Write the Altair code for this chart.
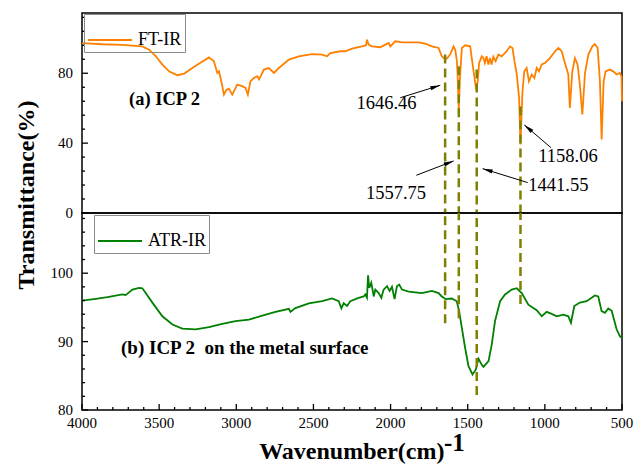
import math
import altair as alt
import pandas as pd

# ---------------------------------------------------------------- spectra ---
# FT-IR spectrum of ICP 2: wavenumber (cm-1) and transmittance (%)
ftir_wn = [4000, 3867, 3738, 3609, 3565, 3524, 3479, 3434, 3382, 3337, 3285, 3233,
           3177, 3145, 3123, 3112, 3095, 3080, 3065, 3048, 3026, 2994, 2962, 2940,
           2925, 2908, 2886, 2864, 2852, 2821, 2789, 2756, 2724, 2659, 2595, 2509,
           2444, 2412, 2390, 2326, 2293, 2250, 2185, 2159, 2153, 2142, 2121, 2067,
           2034, 2012, 2002, 1970, 1926, 1818, 1776, 1732, 1689, 1668, 1646, 1632,
           1614, 1592, 1581, 1570, 1565, 1558, 1551, 1538, 1517, 1484, 1468, 1445,
           1435, 1426, 1409, 1398, 1389, 1378, 1366, 1356, 1345, 1334, 1319, 1301,
           1280, 1247, 1226, 1210, 1197, 1182, 1167, 1158, 1145, 1133, 1118, 1103,
           1085, 1068, 1053, 1038, 1020, 999, 967, 934, 912, 891, 870, 848,
           838, 822, 805, 788, 773, 757, 740, 718, 692, 676, 658, 643,
           632, 619, 606, 579, 557, 535, 514, 503, 500]
ftir_t = [97.3, 96.6, 96.2, 95.4, 93.5, 90.0, 85.0, 81.0, 78.9, 79.8, 83.0, 86.0,
          89.1, 86.9, 80.2, 81.1, 74.5, 67.8, 70.5, 71.2, 67.8, 73.5, 72.6, 71.6,
          67.8, 75.4, 77.3, 78.3, 76.5, 82.1, 83.0, 80.2, 83.0, 87.8, 89.7, 91.0,
          90.7, 89.7, 91.6, 92.6, 92.6, 94.1, 95.4, 96.0, 99.2, 96.4, 95.4, 94.9,
          96.4, 97.3, 95.4, 98.3, 97.7, 97.7, 97.0, 95.4, 94.5, 89.7, 88.0, 88.7,
          90.7, 95.4, 93.5, 86.9, 78.0, 59.0, 76.0, 94.5, 96.0, 95.4, 85.0, 70.7,
          75.4, 85.9, 89.7, 88.7, 85.9, 89.7, 85.0, 88.7, 85.0, 89.5, 86.9, 90.7,
          89.7, 92.6, 95.4, 94.5, 86.9, 79.3, 65.9, 39.3, 69.7, 81.1, 83.0, 75.4,
          79.3, 77.3, 83.0, 81.1, 85.0, 85.9, 88.7, 92.6, 94.5, 92.6, 85.9, 79.3,
          60.2, 81.1, 88.7, 85.0, 73.5, 56.4, 80.0, 90.7, 95.4, 96.7, 94.5, 75.4,
          42.1, 75.4, 81.1, 82.1, 81.1, 79.3, 80.2, 78.0, 64.0]

# ATR-IR spectrum of ICP 2 adsorbed on the metal surface
atr_wn = [4000, 3911, 3835, 3738, 3717, 3673, 3630, 3609, 3587, 3544, 3479, 3414,
          3350, 3264, 3177, 3091, 3005, 2918, 2832, 2746, 2659, 2649, 2617, 2530,
          2444, 2379, 2336, 2319, 2304, 2282, 2261, 2207, 2174, 2164, 2153, 2146,
          2138, 2125, 2109, 2099, 2077, 2060, 2045, 2023, 2006, 1991, 1974, 1959,
          1944, 1926, 1883, 1797, 1732, 1689, 1668, 1642, 1603, 1571, 1556, 1538,
          1517, 1495, 1469, 1448, 1430, 1409, 1398, 1365, 1344, 1323, 1290, 1258,
          1215, 1182, 1150, 1107, 1053, 1020, 988, 956, 923, 880, 848, 831,
          809, 773, 729, 676, 654, 632, 611, 589, 567, 535, 514, 500]
atr_t = [96.0, 96.25, 96.5, 96.9, 96.8, 97.6, 97.85, 97.8, 97.1, 95.7, 93.7, 92.5,
         91.9, 91.8, 92.1, 92.6, 93.0, 93.2, 93.8, 94.35, 94.8, 94.35, 94.9, 95.6,
         95.9, 96.3, 95.9, 94.85, 95.6, 95.2, 95.9, 96.4, 96.6, 96.9, 96.4, 99.7,
         97.85, 98.6, 96.6, 97.6, 97.1, 96.4, 97.6, 98.1, 97.4, 98.0, 96.2, 98.1,
         98.35, 97.6, 97.3, 97.1, 97.4, 97.1, 96.6, 96.2, 96.3, 95.9, 94.5, 92.0,
         89.1, 86.4, 85.2, 85.9, 87.5, 86.6, 86.3, 87.15, 89.6, 93.0, 95.9, 96.9,
         97.6, 97.8, 97.1, 95.4, 94.6, 93.7, 94.35, 94.05, 93.7, 93.95, 93.7, 92.75,
         95.2, 95.7, 95.9, 96.75, 96.6, 94.45, 94.2, 94.85, 94.5, 91.8, 90.8, 90.5]

# ---------------------------------------------------------- marked bands ---
peak_wn = [1646.46, 1557.75, 1441.55, 1158.06]
peak_from_upper = [90.7, 84.0, 82.2, 61.0]   # dashed marker start in panel (a)
peak_to_lower = [92.7, 93.4, 82.2, 95.5]     # dashed marker end in panel (b)

# ----------------------------------------------------------- axis ticks ---
x_major = list(range(4000, 499, -500))
x_minor = [v for v in range(600, 4000, 100) if v % 500]
top_major = [0, 40, 80]
top_minor = [v for v in range(8, 114, 8) if v % 40]
bot_major = [80, 90, 100]
bot_minor = [v for v in range(82, 109, 2) if v % 10]

# ------------------------------------------------------------- layout ------
W, H_TOP, H_BOT = 540, 200, 197
X_DOM = [500, 4000]
TOP_DOM = [0, 114.5]
BOT_DOM = [80, 108.8]
MAJOR_LEN, MINOR_LEN = 6, 3   # tick lengths in pixels

SERIF = "Liberation Serif"
ORANGE = "#ff8000"
GREEN = "#008000"
OLIVE = "#808000"

# callouts in panel (a): label centre, arrow tail and arrow tip (data units)
call_label_wn = [2026, 1965, 912, 850]
call_label_t = [62.7, 11.2, 15.75, 32.9]
call_tail_wn = [1937, 1833, 1111, 960]
call_tail_t = [66.0, 21.6, 17.4, 37.4]
call_tip_wn = [1678, 1591, 1403, 1133]
call_tip_t = [73.1, 29.8, 25.4, 50.4]

x_scale = alt.Scale(domain=X_DOM, reverse=True, nice=False, zero=False)
top_scale = alt.Scale(domain=TOP_DOM, nice=False, zero=False)
bot_scale = alt.Scale(domain=BOT_DOM, nice=False, zero=False)

# pixels per data unit
kx = W / (X_DOM[1] - X_DOM[0])
ky_top = H_TOP / (TOP_DOM[1] - TOP_DOM[0])
ky_bot = H_BOT / (BOT_DOM[1] - BOT_DOM[0])


def X(field):
    return alt.X(field, scale=x_scale, axis=None)


def Y(field, scale):
    return alt.Y(field, scale=scale, axis=None)


# Inward-facing ticks, measured from the frame in data units through the scales.
def y_ticks(values, scale, length):
    df = pd.DataFrame({"v": values, "x0": X_DOM[1], "x1": X_DOM[1] - length / kx})
    return alt.Chart(df).mark_rule(color="black", strokeWidth=1.3).encode(
        y=Y("v:Q", scale), x=X("x0:Q"), x2="x1:Q",
    )


def x_ticks(values, length):
    df = pd.DataFrame({"v": values, "y0": BOT_DOM[0], "y1": BOT_DOM[0] + length / ky_bot})
    return alt.Chart(df).mark_rule(color="black", strokeWidth=1.3).encode(
        x=X("v:Q"), y=Y("y0:Q", bot_scale), y2="y1:Q",
    )


def y_labels(values, scale):
    return alt.Chart(pd.DataFrame({"v": values})).mark_text(
        align="right", baseline="middle", font=SERIF, fontSize=15, color="black").encode(
        y=Y("v:Q", scale), x=alt.value(-9), text=alt.Text("v:Q", format="d"),
    )


def x_labels(values, height):
    return alt.Chart(pd.DataFrame({"v": values})).mark_text(
        align="center", baseline="top", font=SERIF, fontSize=15, color="black").encode(
        x=X("v:Q"), y=alt.value(height + 6), text=alt.Text("v:Q", format="d"),
    )


def title_text(text, x, y, angle=0, size=24):
    return alt.Chart(pd.DataFrame({"text": [text]})).mark_text(
        align="center", baseline="alphabetic", font=SERIF, fontSize=size,
        fontWeight="bold", color="black", angle=angle).encode(
        x=alt.value(x), y=alt.value(y), text="text:N",
    )


def legend_at(x, y):
    return alt.Legend(orient="none", legendX=x, legendY=y, title=None,
                      strokeColor="#8a8a8a", padding=3, symbolType="stroke",
                      symbolSize=1936, symbolStrokeWidth=2, labelFont=SERIF,
                      labelFontSize=18, labelColor="black", labelOffset=5, labelLimit=0)


# arrowhead orientation from the on-screen direction of each callout arrow
angles = []
for tw, tt, hw, ht in zip(call_tail_wn, call_tail_t, call_tip_wn, call_tip_t):
    dx = (tw - hw) * kx
    dy = -(ht - tt) * ky_top
    angles.append(math.degrees(math.atan2(dx, -dy)) % 360)

ARROW = "M0,0L0.42,2L-0.42,2Z"

ftir = pd.DataFrame({"wn": ftir_wn, "t": ftir_t, "series": "FT-IR"})
atr = pd.DataFrame({"wn": atr_wn, "t": atr_t, "series": "ATR-IR"})
bands = pd.DataFrame({"wn": peak_wn, "upper_from": peak_from_upper,
                      "lower_to": peak_to_lower})
calls = pd.DataFrame({
    "label": [f"{v:.2f}" for v in peak_wn],
    "label_wn": call_label_wn, "label_t": call_label_t,
    "tail_wn": call_tail_wn, "tail_t": call_tail_t,
    "tip_wn": call_tip_wn, "tip_t": call_tip_t,
    "angle": angles,
})

# ------------------------------------------------------- panel (a) FT-IR ---
top_line = alt.Chart(ftir).mark_line(strokeWidth=1.8).encode(
    x=X("wn:Q"), y=Y("t:Q", top_scale),
    color=alt.Color("series:N", scale=alt.Scale(domain=["FT-IR"], range=[ORANGE]),
                    legend=legend_at(2, 1)),
)

top_dash = alt.Chart(bands).mark_rule(color=OLIVE, strokeWidth=2.5, strokeDash=[9, 5]).encode(
    x=X("wn:Q"), y=Y("upper_from:Q", top_scale), y2=alt.datum(TOP_DOM[0]),
)

shafts = alt.Chart(calls).mark_rule(color="black", strokeWidth=1).encode(
    x=X("tail_wn:Q"), x2="tip_wn:Q", y=Y("tail_t:Q", top_scale), y2="tip_t:Q",
)

heads = alt.Chart(calls).mark_point(shape=ARROW, filled=True, size=100, color="black",
                                    opacity=1, strokeWidth=0).encode(
    x=X("tip_wn:Q"), y=Y("tip_t:Q", top_scale),
    angle=alt.Angle("angle:Q", scale=None),
)

call_text = alt.Chart(calls).mark_text(font=SERIF, fontSize=18.5, color="black").encode(
    x=X("label_wn:Q"), y=Y("label_t:Q", top_scale), text="label:N",
)

panel_a = alt.Chart(pd.DataFrame({"wn": [3695], "t": [65.3], "text": ["(a) ICP 2"]})).mark_text(
    align="left", baseline="middle", font=SERIF, fontSize=18.5, fontWeight="bold",
    color="black").encode(
    x=X("wn:Q"), y=Y("t:Q", top_scale), text="text:N",
)

top = alt.layer(
    top_line, top_dash, shafts, heads, call_text, panel_a,
    y_ticks(top_major, top_scale, MAJOR_LEN), y_ticks(top_minor, top_scale, MINOR_LEN),
    y_labels(top_major, top_scale),
    title_text("Transmittance(%)", -48, 182, angle=270),
).properties(width=W, height=H_TOP)

# ------------------------------------------------------ panel (b) ATR-IR ---
bot_line = alt.Chart(atr).mark_line(strokeWidth=1.8).encode(
    x=X("wn:Q"), y=Y("t:Q", bot_scale),
    color=alt.Color("series:N", scale=alt.Scale(domain=["ATR-IR"], range=[GREEN]),
                    legend=legend_at(12, 2)),
)

bot_dash = alt.Chart(bands).mark_rule(color=OLIVE, strokeWidth=2.5, strokeDash=[9, 5]).encode(
    x=X("wn:Q"), y=Y("lower_to:Q", bot_scale), y2=alt.datum(BOT_DOM[1]),
)

panel_b = alt.Chart(pd.DataFrame({"wn": [3747], "t": [89.05],
                                  "text": ["(b) ICP 2\u00a0 on the metal surface"]})).mark_text(
    align="left", baseline="middle", font=SERIF, fontSize=19, fontWeight="bold",
    color="black").encode(
    x=X("wn:Q"), y=Y("t:Q", bot_scale), text="text:N",
)

# x-axis title with the unit's superscript
unit_exp = alt.Chart(pd.DataFrame({"text": ["-1"]})).mark_text(
    align="left", baseline="alphabetic", font=SERIF, fontSize=25, fontWeight="bold",
    color="black").encode(
    x=alt.value(362), y=alt.value(238), text="text:N",
)

bottom = alt.layer(
    bot_line, bot_dash, panel_b,
    y_ticks(bot_major, bot_scale, MAJOR_LEN), y_ticks(bot_minor, bot_scale, MINOR_LEN),
    x_ticks(x_major, MAJOR_LEN), x_ticks(x_minor, MINOR_LEN),
    y_labels(bot_major, bot_scale), x_labels(x_major, H_BOT),
    title_text("Wavenumber(cm)", 269.8, H_BOT + 49), unit_exp,
).properties(width=W, height=H_BOT)

chart = alt.vconcat(top, bottom, spacing=0, bounds="flush").resolve_scale(
    x="independent", y="independent", color="independent"
).resolve_legend(color="independent").properties(
    padding={"left": 14, "top": 12, "right": 0, "bottom": 0}
).configure_view(stroke="black", strokeWidth=1.5)

chart.save("out.html", embed_options={"renderer": "svg", "actions": False})
